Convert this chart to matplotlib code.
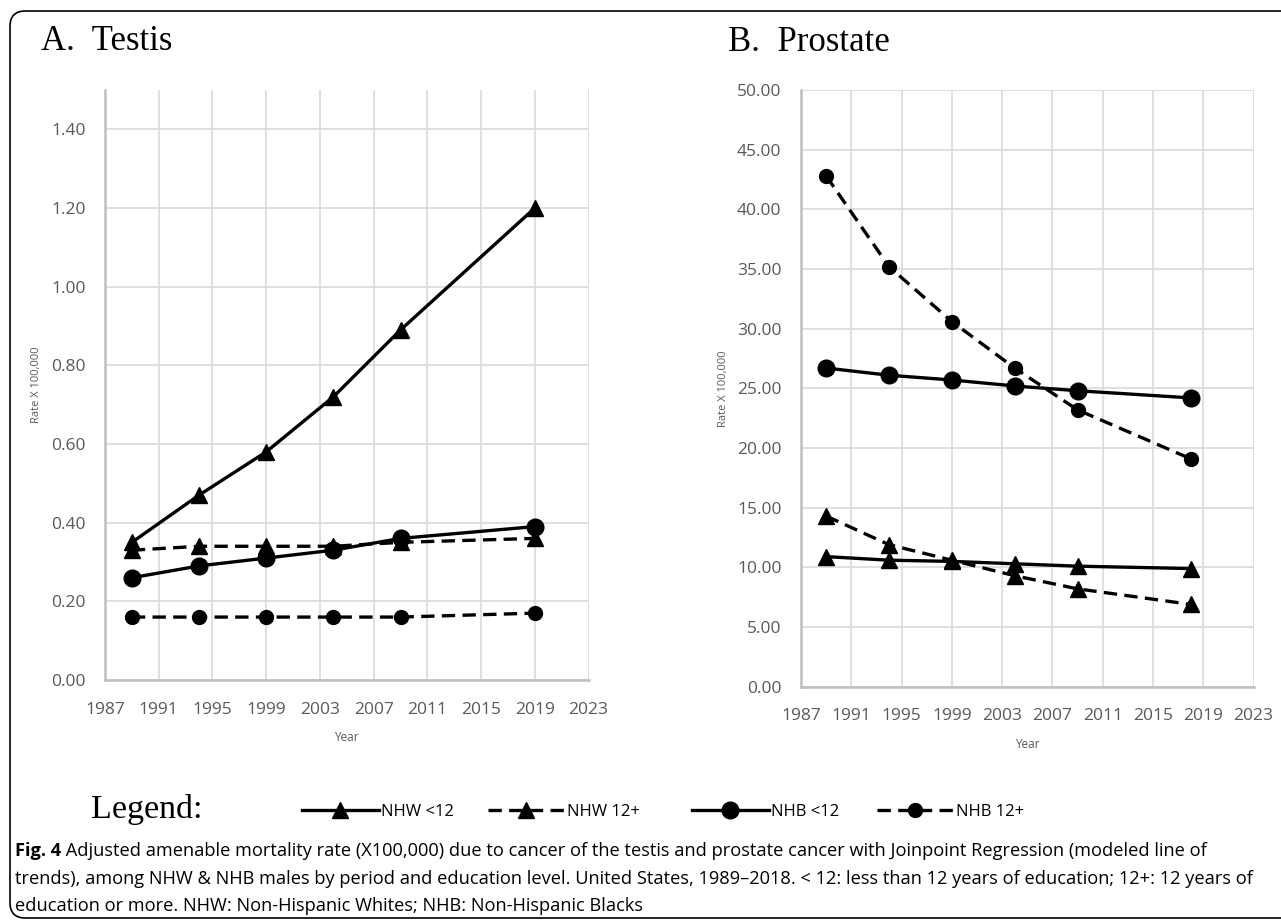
import matplotlib
matplotlib.use("Agg")
import matplotlib.pyplot as plt
from matplotlib.lines import Line2D
from matplotlib.patches import FancyBboxPatch
from matplotlib.text import Annotation
from matplotlib.ticker import FormatStrFormatter, MultipleLocator

# ---- data -------------------------------------------------------------
series_names = ["NHW <12", "NHW 12+", "NHB <12", "NHB 12+"]

testis_years = [1989, 1994, 1999, 2004, 2009, 2019]
testis_nhw_lt12 = [0.35, 0.47, 0.58, 0.72, 0.89, 1.20]
testis_nhw_12p = [0.33, 0.34, 0.34, 0.34, 0.35, 0.36]
testis_nhb_lt12 = [0.26, 0.29, 0.31, 0.33, 0.36, 0.39]
testis_nhb_12p = [0.16, 0.16, 0.16, 0.16, 0.16, 0.17]

prostate_years = [1989, 1994, 1999, 2004, 2009, 2018]
prostate_nhw_lt12 = [10.9, 10.6, 10.5, 10.3, 10.1, 9.9]
prostate_nhw_12p = [14.3, 11.9, 10.6, 9.3, 8.2, 6.9]
prostate_nhb_lt12 = [26.7, 26.1, 25.7, 25.2, 24.8, 24.2]
prostate_nhb_12p = [42.8, 35.2, 30.6, 26.7, 23.2, 19.1]

panel_titles = ["A.  Testis", "B.  Prostate"]
year_ticks = list(range(1987, 2024, 4))
testis_yticks = [0.0, 0.2, 0.4, 0.6, 0.8, 1.0, 1.2, 1.4]

caption_bold = "Fig. 4"
caption_lines = [
    " Adjusted amenable mortality rate (X100,000) due to cancer of the testis and prostate cancer with Joinpoint Regression (modeled line of",
    "trends), among NHW & NHB males by period and education level. United States, 1989\u20132018. < 12: less than 12 years of education; 12+: 12 years of",
    "education or more. NHW: Non-Hispanic Whites; NHB: Non-Hispanic Blacks",
]

# ---- styles -----------------------------------------------------------
DASH = (0, (4.0, 2.2))
styles = {
    "NHW <12": dict(color="black", lw=2.4, ls="-", marker="^", ms=11),
    "NHW 12+": dict(color="black", lw=2.4, ls=DASH, marker="^", ms=11),
    "NHB <12": dict(color="black", lw=2.4, ls="-", marker="o", ms=12),
    "NHB 12+": dict(color="black", lw=2.4, ls=DASH, marker="o", ms=10),
}

TICK_COLOR = "#595959"
GRID_COLOR = "#d9d9d9"
SPINE_COLOR = "#bfbfbf"
SANS = "Open Sans"
SERIF = "Liberation Serif"

W, H = 1281, 923
fig = plt.figure(figsize=(W / 100, H / 100), dpi=100)


def px_box(x0, y0, x1, y1):
    """Axes rectangle from pixel edges (origin at top-left)."""
    return [x0 / W, 1 - y1 / H, (x1 - x0) / W, (y1 - y0) / H]


def style_axes(ax, ylim):
    ax.set_xlim(1987, 2023)
    ax.set_ylim(*ylim)
    ax.set_xticks(year_ticks)
    ax.yaxis.set_major_formatter(FormatStrFormatter("%.2f"))
    ax.grid(True, color=GRID_COLOR, lw=1.2)
    ax.set_axisbelow(True)
    for side in ("top", "right"):
        ax.spines[side].set_visible(False)
    for side in ("left", "bottom"):
        ax.spines[side].set_color(SPINE_COLOR)
        ax.spines[side].set_linewidth(1.8)
    ax.tick_params(length=0, colors=TICK_COLOR, labelsize=12.5)
    ax.tick_params(axis="y", pad=14)
    ax.tick_params(axis="x", pad=15.5)
    for lab in ax.get_xticklabels() + ax.get_yticklabels():
        lab.set_fontfamily(SANS)
    ax.set_xlabel("Year", fontsize=8.5, color=TICK_COLOR, family=SANS, labelpad=10)
    ax.set_ylabel("Rate X 100,000", fontsize=8, color=TICK_COLOR, family=SANS)


# ---- panel A: testis --------------------------------------------------
ax1 = fig.add_axes(px_box(105, 90, 588.6, 680))
for name, vals in zip(series_names,
                      [testis_nhw_lt12, testis_nhw_12p, testis_nhb_lt12, testis_nhb_12p]):
    ax1.plot(testis_years, vals, **styles[name], clip_on=False)
style_axes(ax1, (0, 1.5))
ax1.set_yticks(testis_yticks)
ax1.yaxis.set_label_coords(-0.130, 0.5)

# ---- panel B: prostate ------------------------------------------------
ax2 = fig.add_axes(px_box(801, 90, 1253.5, 686.7))
for name, vals in zip(series_names,
                      [prostate_nhw_lt12, prostate_nhw_12p, prostate_nhb_lt12, prostate_nhb_12p]):
    ax2.plot(prostate_years, vals, **styles[name], clip_on=False)
style_axes(ax2, (0, 50))
ax2.yaxis.set_major_locator(MultipleLocator(5))
ax2.yaxis.set_label_coords(-0.160, 0.5)

# ---- panel titles -----------------------------------------------------
fig.text(41 / W, 1 - 50 / H, panel_titles[0], family=SERIF, fontsize=25, va="baseline")
fig.text(728 / W, 1 - 51 / H, panel_titles[1], family=SERIF, fontsize=25, va="baseline")

# ---- legend row -------------------------------------------------------
fig.text(91 / W, 1 - 818 / H, "Legend:", family=SERIF, fontsize=24.5, va="baseline")
legend_x = [302, 488, 692, 877]
for name, x0 in zip(series_names, legend_x):
    fig.legend([Line2D([], [], **styles[name])], [name], loc="center left",
               bbox_to_anchor=(x0 / W, 1 - 812 / H), frameon=False,
               handlelength=4.6, handletextpad=0.15, borderpad=0, borderaxespad=0,
               prop={"family": SANS, "size": 12})

# ---- caption ----------------------------------------------------------
CAP_SIZE = 13.15
t0 = fig.text(15 / W, 1 - 856 / H, caption_bold, family=SANS, fontsize=CAP_SIZE,
              weight="bold", va="baseline")
fig.add_artist(Annotation(caption_lines[0], xy=(1, 0), xycoords=t0, va="bottom",
                          ha="left", family=SANS, fontsize=CAP_SIZE))
fig.text(15 / W, 1 - 884 / H, caption_lines[1], family=SANS, fontsize=CAP_SIZE, va="baseline")
fig.text(15 / W, 1 - 911 / H, caption_lines[2], family=SANS, fontsize=CAP_SIZE, va="baseline")

# ---- rounded frame ----------------------------------------------------
frame = FancyBboxPatch((10 / W, 1 - 918 / H), 1.05, (918 - 11) / H,
                       boxstyle="round,pad=0,rounding_size=0.012",
                       transform=fig.transFigure, fill=False, ec="black", lw=1.2,
                       mutation_aspect=W / H)
fig.add_artist(frame)

fig.savefig("out.png", dpi=100)
